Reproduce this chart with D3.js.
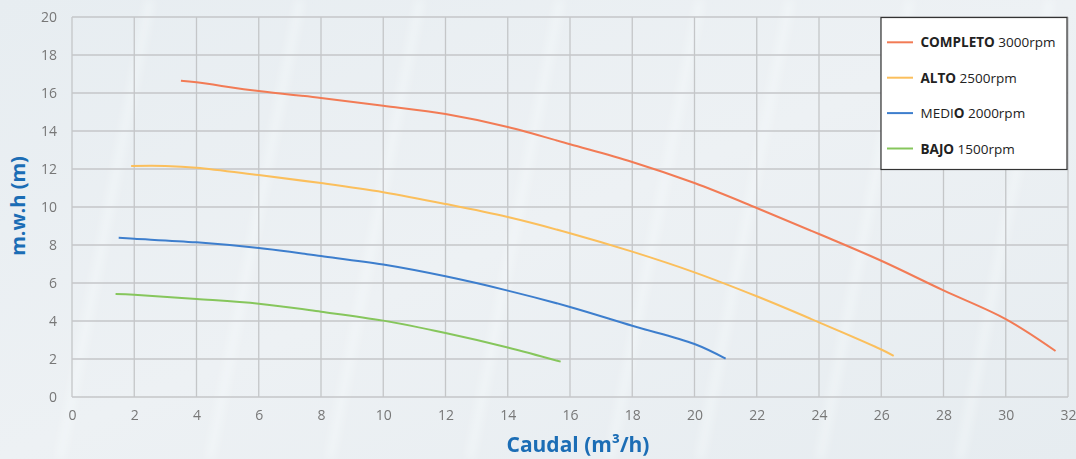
<html>
<head>
<script src="https://cdn.jsdelivr.net/npm/d3@7"></script>
</head>
<body style="margin:0">
<style>
  body { font-family: "Open Sans", sans-serif; }
  .grid line { stroke: #c4c6c8; stroke-width: 1.3; }
  .tick text { fill: #777; font-size: 14px; }
  .curve { fill: none; stroke-width: 2; }
</style>
<svg width="1076" height="459" id="chart"></svg>
<script>
// data (x = caudal m3/h, y = m.w.h)
var series = ["COMPLETO", "ALTO", "MEDIO", "BAJO"];
var rpm = ["3000rpm", "2500rpm", "2000rpm", "1500rpm"];
var colors = ["#f27b55", "#fbbf5c", "#3d7ecd", "#86c65c"];

var completoX = [3.5, 4, 6, 8, 10, 12, 14, 16, 18, 20, 22, 24, 26, 28, 30, 31.6];
var completoY = [16.65, 16.56, 16.1, 15.74, 15.33, 14.89, 14.21, 13.3, 12.37, 11.26, 9.95, 8.58, 7.17, 5.61, 4.1, 2.42];
var altoX = [1.9, 3, 4, 6, 8, 10, 12, 14, 16, 18, 20, 22, 24, 26, 26.4];
var altoY = [12.16, 12.16, 12.07, 11.68, 11.26, 10.78, 10.16, 9.47, 8.62, 7.65, 6.56, 5.3, 3.93, 2.5, 2.17];
var medioX = [1.5, 2, 4, 6, 8, 10, 12, 14, 16, 18, 20, 21];
var medioY = [8.38, 8.33, 8.14, 7.84, 7.42, 6.97, 6.35, 5.6, 4.74, 3.75, 2.79, 2.02];
var bajoX = [1.4, 2, 4, 6, 8, 10, 12, 14, 15.7];
var bajoY = [5.42, 5.38, 5.16, 4.91, 4.49, 4.02, 3.37, 2.61, 1.86];

var xTicks = d3.range(0, 33, 2);
var yTicks = d3.range(0, 21, 2);

var svg = d3.select("#chart"),
    width = +svg.attr("width"),
    height = +svg.attr("height");

var margin = {left: 72, right: 8, top: 17, bottom: 62};

// watery background
var defs = svg.append("defs");
var bg = defs.append("linearGradient").attr("id", "bg")
  .attr("x1", "0").attr("y1", "0").attr("x2", "1").attr("y2", "1");
bg.append("stop").attr("offset", "0").attr("stop-color", "#e7edf1");
bg.append("stop").attr("offset", "0.5").attr("stop-color", "#edf1f4");
bg.append("stop").attr("offset", "1").attr("stop-color", "#e6ecf0");
svg.append("rect").attr("width", width).attr("height", height).attr("fill", "url(#bg)");

var blur = defs.append("filter").attr("id", "soft");
blur.append("feGaussianBlur").attr("stdDeviation", 4);
var streaks = [60, 210, 330, 470, 610, 700, 820, 960];
svg.append("g").attr("filter", "url(#soft)")
  .selectAll("line").data(streaks).enter().append("line")
  .attr("x1", function(d) { return d; })
  .attr("y1", height)
  .attr("x2", function(d) { return d + 90; })
  .attr("y2", 0)
  .attr("stroke", "#fbfdff")
  .attr("stroke-width", 7)
  .attr("opacity", 0.45);

var x = d3.scaleLinear().domain([0, 32]).range([margin.left, width - margin.right]);
var y = d3.scaleLinear().domain([0, 20]).range([height - margin.bottom, margin.top]);

// grid
var grid = svg.append("g").attr("class", "grid");
grid.selectAll("line.v").data(xTicks).enter().append("line")
  .attr("x1", function(d) { return x(d); }).attr("x2", function(d) { return x(d); })
  .attr("y1", y(0)).attr("y2", y(20));
grid.selectAll("line.h").data(yTicks).enter().append("line")
  .attr("y1", function(d) { return y(d); }).attr("y2", function(d) { return y(d); })
  .attr("x1", x(0)).attr("x2", x(32));

// axes (labels only)
var xAxis = svg.append("g")
  .attr("transform", "translate(0," + y(0) + ")")
  .call(d3.axisBottom(x).tickValues(xTicks).tickSize(0).tickPadding(13));
xAxis.select(".domain").remove();

var yAxis = svg.append("g")
  .attr("transform", "translate(" + x(0) + ",0)")
  .call(d3.axisLeft(y).tickValues(yTicks).tickSize(0).tickPadding(15));
yAxis.select(".domain").remove();
svg.selectAll(".tick text").attr("font-family", "Open Sans");

// curves
var data = [
  d3.zip(completoX, completoY),
  d3.zip(altoX, altoY),
  d3.zip(medioX, medioY),
  d3.zip(bajoX, bajoY)
];
var line = d3.line()
  .x(function(d) { return x(d[0]); })
  .y(function(d) { return y(d[1]); })
  .curve(d3.curveCatmullRom.alpha(0.5));

svg.append("g").selectAll("path").data(data).enter().append("path")
  .attr("class", "curve")
  .attr("stroke", function(d, i) { return colors[i]; })
  .attr("d", line);

// axis titles
svg.append("text")
  .attr("x", 578).attr("y", 452)
  .attr("text-anchor", "middle")
  .attr("fill", "#1b6db5")
  .attr("font-size", 21).attr("font-weight", "bold")
  .html("Caudal (m&#179;/h)");

svg.append("text")
  .attr("transform", "translate(25,206) rotate(-90)")
  .attr("text-anchor", "middle")
  .attr("fill", "#1b6db5")
  .attr("font-size", 20).attr("font-weight", "bold")
  .text("m.w.h (m)");

// legend
var legend = svg.append("g");
legend.append("rect")
  .attr("x", 881).attr("y", 17.5).attr("width", 186).attr("height", 152)
  .attr("fill", "#fff").attr("stroke", "#333").attr("stroke-width", 1.2);

var item = legend.selectAll("g.item").data(series).enter().append("g")
  .attr("transform", function(d, i) { return "translate(0," + (42.3 + i * 35.4) + ")"; });
item.append("line")
  .attr("x1", 887).attr("x2", 913)
  .attr("stroke", function(d, i) { return colors[i]; })
  .attr("stroke-width", 2);
var label = item.append("text")
  .attr("x", 920.5).attr("y", 5)
  .attr("font-size", 13.5).attr("fill", "#222");
label.each(function(d, i) {
  var t = d3.select(this);
  if (d === "MEDIO") {
    t.append("tspan").text("MEDI");
    t.append("tspan").attr("font-weight", "bold").text("O");
  } else {
    t.append("tspan").attr("font-weight", "bold").text(d);
  }
  t.append("tspan").text(" " + rpm[i]);
});
</script>
</body>
</html>
